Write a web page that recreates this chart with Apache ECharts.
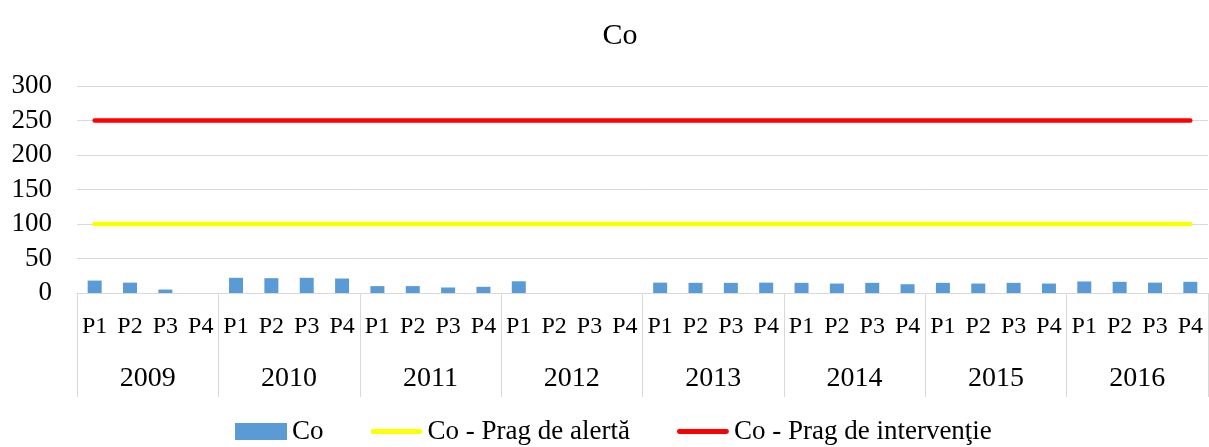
<!DOCTYPE html>
<html>
<head>
<meta charset="utf-8">
<script src="https://cdn.jsdelivr.net/npm/echarts@6/dist/echarts.min.js"></script>
<style>html,body{margin:0;padding:0;background:#fff}#c{width:1209px;height:447px}</style>
</head>
<body>
<div id="c"></div>
<script>
var years = ['2009','2010','2011','2012','2013','2014','2015','2016'];
var periods = ['P1','P2','P3','P4'];
var yTicks = [0, 50, 100, 150, 200, 250, 300];
var coValues = [
  18, 15, 5, null,
  22, 21.5, 22, 21,
  10, 10, 8, 9,
  17, null, null, null,
  15, 14.7, 14.7, 15,
  14.7, 13.7, 14.7, 12.7,
  14.7, 13.7, 14.7, 13.7,
  16.7, 16.2, 15, 16.2
];
var alertValues = [
  100, 100, 100, 100, 100, 100, 100, 100,
  100, 100, 100, 100, 100, 100, 100, 100,
  100, 100, 100, 100, 100, 100, 100, 100,
  100, 100, 100, 100, 100, 100, 100, 100
];
var interventionValues = [
  250, 250, 250, 250, 250, 250, 250, 250,
  250, 250, 250, 250, 250, 250, 250, 250,
  250, 250, 250, 250, 250, 250, 250, 250,
  250, 250, 250, 250, 250, 250, 250, 250
];
var seriesNames = ['Co', 'Co - Prag de alertă', 'Co - Prag de intervenţie'];

var categories = [];
years.forEach(function (y) { periods.forEach(function (p) { categories.push(p); }); });

var FONT = 'Liberation Serif';
var lineIcon = 'path://M2.5,0H51.5A2.5,2.5,0,0,1,51.5,5H2.5A2.5,2.5,0,0,1,2.5,0Z';
var chart = echarts.init(document.getElementById('c'), null, {renderer: 'canvas'});
chart.setOption({
  animation: false,
  title: {
    text: 'Co',
    left: 615,
    textAlign: 'center',
    top: 16,
    textStyle: {fontFamily: FONT, fontSize: 30, fontWeight: 'normal', color: '#000'}
  },
  grid: {left: 77, right: 1, top: 86, bottom: 154, containLabel: false},
  legend: {
    top: 413,
    left: 230,
    itemWidth: 52,
    itemHeight: 17,
    itemGap: 47,
    symbolKeepAspect: true,
    textStyle: {fontFamily: FONT, fontSize: 27, color: '#000'},
    data: [
      {name: seriesNames[0], icon: 'rect'},
      {name: seriesNames[1], icon: lineIcon},
      {name: seriesNames[2], icon: lineIcon}
    ]
  },
  xAxis: [
    {
      type: 'category',
      data: categories,
      position: 'bottom',
      axisLine: {show: true, lineStyle: {color: '#D9D9D9', width: 1}},
      axisTick: {show: false},
      axisLabel: {interval: 0, margin: 22, fontFamily: FONT, fontSize: 24, color: '#000'}
    },
    {
      type: 'category',
      data: years,
      position: 'bottom',
      axisLine: {show: false},
      axisTick: {show: true, length: 104, lineStyle: {color: '#D9D9D9', width: 1}},
      axisLabel: {interval: 0, margin: 72, fontFamily: FONT, fontSize: 28, color: '#000'}
    }
  ],
  yAxis: {
    type: 'value',
    min: yTicks[0],
    max: yTicks[yTicks.length - 1],
    interval: 50,
    axisLine: {show: false},
    axisTick: {show: false},
    splitLine: {lineStyle: {color: '#D9D9D9', width: 1}},
    axisLabel: {margin: 25, fontFamily: FONT, fontSize: 27, color: '#000'}
  },
  series: [
    {
      name: seriesNames[0],
      type: 'bar',
      xAxisIndex: 0,
      data: coValues,
      barWidth: 14,
      itemStyle: {color: '#5B9BD5'}
    },
    {
      name: seriesNames[1],
      type: 'line',
      xAxisIndex: 0,
      data: alertValues,
      symbol: 'none',
      lineStyle: {color: '#FFFF00', width: 4.5, cap: 'round'},
      itemStyle: {color: '#FFFF00'}
    },
    {
      name: seriesNames[2],
      type: 'line',
      xAxisIndex: 0,
      data: interventionValues,
      symbol: 'none',
      lineStyle: {color: '#FF0000', width: 4.5, cap: 'round'},
      itemStyle: {color: '#FF0000'}
    }
  ]
});
</script>
</body>
</html>
